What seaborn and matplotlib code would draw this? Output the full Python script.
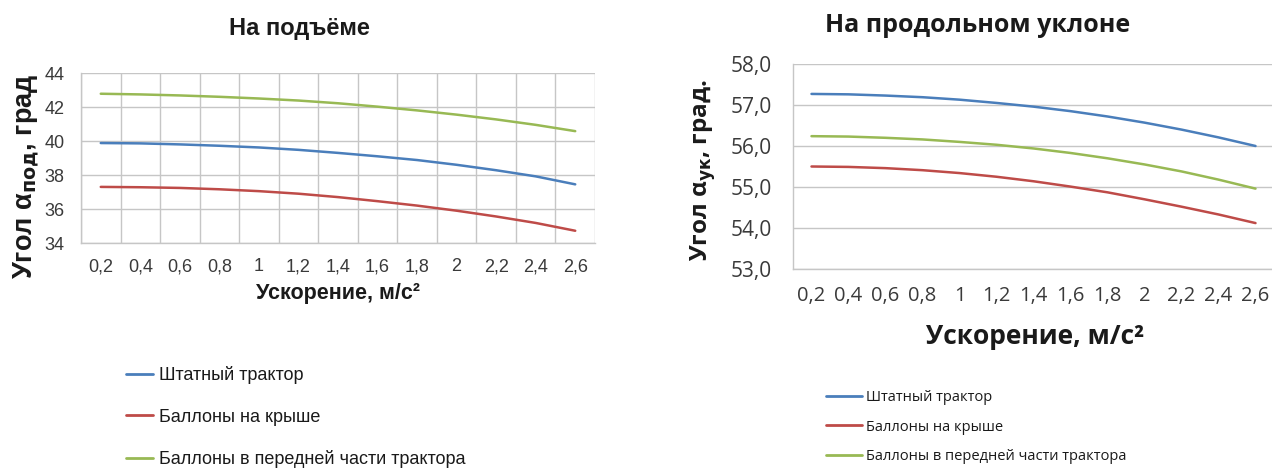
import numpy as np
import pandas as pd
import matplotlib
matplotlib.use("Agg")
import matplotlib.pyplot as plt
from matplotlib.lines import Line2D
from matplotlib.ticker import FixedLocator
import seaborn as sns

# ---------------- data ----------------
accel_labels = ["0,2", "0,4", "0,6", "0,8", "1", "1,2", "1,4", "1,6", "1,8", "2", "2,2", "2,4", "2,6"]
series_names = ["Штатный трактор", "Баллоны на крыше", "Баллоны в передней части трактора"]

climb_standard = [39.88, 39.86, 39.80, 39.72, 39.62, 39.48, 39.30, 39.10, 38.88, 38.60, 38.28, 37.92, 37.45]
climb_roof     = [37.30, 37.28, 37.24, 37.16, 37.05, 36.90, 36.70, 36.46, 36.20, 35.90, 35.56, 35.18, 34.72]
climb_front    = [42.78, 42.74, 42.68, 42.60, 42.50, 42.38, 42.22, 42.02, 41.80, 41.55, 41.27, 40.95, 40.58]

slope_standard = [57.27, 57.26, 57.23, 57.19, 57.13, 57.05, 56.96, 56.85, 56.72, 56.57, 56.40, 56.21, 56.00]
slope_roof     = [55.50, 55.49, 55.46, 55.41, 55.34, 55.25, 55.14, 55.01, 54.87, 54.70, 54.52, 54.33, 54.12]
slope_front    = [56.24, 56.23, 56.20, 56.16, 56.10, 56.03, 55.94, 55.83, 55.70, 55.55, 55.38, 55.18, 54.96]

left_yticks = [34, 36, 38, 40, 42, 44]
right_yticks = [53, 54, 55, 56, 57, 58]

colors = ["#4a7ebb", "#be4b48", "#98b954"]

# ---------------- style ----------------
sns.set_theme(style="white")
LEFTF = ["Liberation Sans", "DejaVu Sans"]
RIGHTF = ["Open Sans", "DejaVu Sans"]
plt.rcParams["font.family"] = LEFTF
plt.rcParams["mathtext.fontset"] = "dejavusans"


def long_frame(values_by_series):
    rows = []
    for name, vals in zip(series_names, values_by_series):
        for i, (lab, v) in enumerate(zip(accel_labels, vals)):
            rows.append({"pos": i, "label": lab, "series": name, "value": v})
    return pd.DataFrame(rows)


df_climb = long_frame([climb_standard, climb_roof, climb_front])
df_slope = long_frame([slope_standard, slope_roof, slope_front])

W, H = 1272, 468
fig = plt.figure(figsize=(W / 100, H / 100), dpi=100)


def fx(px):
    return px / W


def fy(py):
    return 1 - py / H


grid_c = "#c6c6c6"
txt_c = "#1a1a1a"
tick_c = "#3a3a3a"
n = len(accel_labels)

# ---------------- left panel ----------------
ax1 = fig.add_axes([fx(81), fy(243), fx(595 - 81), (243 - 73) / H])
sns.lineplot(data=df_climb, x="pos", y="value", hue="series", hue_order=series_names,
             palette=colors, linewidth=1.8, legend=False, ax=ax1)
ax1.set_xlim(-0.5, n - 0.5)
ax1.set_ylim(left_yticks[0], left_yticks[-1])
ax1.set_yticks(left_yticks)
ax1.set_yticklabels([str(t) for t in left_yticks], fontsize=13, color=tick_c, family=LEFTF)
ax1.xaxis.set_major_locator(FixedLocator(list(range(n))))
ax1.set_xticklabels(accel_labels, fontsize=13, color=tick_c, family=LEFTF)
ax1.xaxis.set_minor_locator(FixedLocator([i - 0.5 for i in range(n + 1)]))
ax1.tick_params(axis="x", which="major", length=0, pad=11)
ax1.tick_params(axis="x", which="minor", length=7, direction="inout", color=grid_c, width=1)
ax1.tick_params(axis="y", which="major", length=6, direction="out", color=grid_c, pad=6)
ax1.grid(False)
ax1.grid(True, which="minor", axis="x", color=grid_c, linewidth=1)
ax1.grid(True, which="major", axis="y", color=grid_c, linewidth=1)
for s in ["top", "right"]:
    ax1.spines[s].set_visible(False)
for s in ["left", "bottom"]:
    ax1.spines[s].set_color(grid_c)
    ax1.spines[s].set_linewidth(1)
ax1.set_xlabel("")
ax1.set_ylabel("")

fig.text(fx(299), fy(29), "На подъёме", ha="center", va="center",
         fontsize=17, fontweight="bold", family=LEFTF, color=txt_c)
fig.text(fx(338), fy(294), "Ускорение, м/с²", ha="center", va="center",
         fontsize=15.5, fontweight="bold", family=LEFTF, color=txt_c)
fig.text(fx(26), fy(176), r"Угол α$_{\mathbf{под}}$, град", ha="center", va="center",
         rotation=90, fontsize=19.5, fontweight="bold", family=LEFTF, color=txt_c)

handles = [Line2D([], [], color=c, linewidth=2) for c in colors]
fig.legend(handles, series_names, loc="upper left", bbox_to_anchor=(fx(126), fy(366)),
           frameon=False, handlelength=1.5, handletextpad=0.33,
           labelspacing=1.37, borderpad=0, borderaxespad=0,
           prop={"family": LEFTF, "size": 13}, labelcolor=txt_c)

# ---------------- right panel ----------------
ax2 = fig.add_axes([fx(793), fy(269), fx(1274 - 793), (269 - 64) / H])
sns.lineplot(data=df_slope, x="pos", y="value", hue="series", hue_order=series_names,
             palette=colors, linewidth=1.8, legend=False, ax=ax2)
ax2.set_xlim(-0.5, n - 0.5)
ax2.set_ylim(right_yticks[0], right_yticks[-1])
ax2.set_yticks(right_yticks)
ax2.set_yticklabels([f"{t:.1f}".replace(".", ",") for t in right_yticks],
                    fontsize=15, color=tick_c, family=RIGHTF)
ax2.xaxis.set_major_locator(FixedLocator(list(range(n))))
ax2.set_xticklabels(accel_labels, fontsize=14.5, color=tick_c, family=RIGHTF)
ax2.xaxis.set_minor_locator(FixedLocator([i - 0.5 for i in range(n + 1)]))
ax2.tick_params(axis="x", which="major", length=0, pad=12)
ax2.tick_params(axis="x", which="minor", length=7, direction="inout", color=grid_c, width=1)
ax2.tick_params(axis="y", which="major", length=4.5, direction="out", color=grid_c, pad=11)
ax2.grid(False)
ax2.grid(True, which="major", axis="y", color=grid_c, linewidth=1)
for s in ["top", "right"]:
    ax2.spines[s].set_visible(False)
for s in ["left", "bottom"]:
    ax2.spines[s].set_color(grid_c)
    ax2.spines[s].set_linewidth(1)
ax2.set_xlabel("")
ax2.set_ylabel("")

fig.text(fx(978), fy(26), "На продольном уклоне", ha="center", va="center",
         fontsize=18, fontweight="bold", family=RIGHTF, color=txt_c)
fig.text(fx(1035), fy(337), "Ускорение, м/с²", ha="center", va="center",
         fontsize=19, fontweight="bold", family=RIGHTF, color=txt_c)
fig.text(fx(703), fy(170), r"Угол α$_{\mathbf{ук}}$, град.", ha="center", va="center",
         rotation=90, fontsize=17.5, fontweight="bold", family=RIGHTF, color=txt_c)

fig.legend(handles, series_names, loc="upper left", bbox_to_anchor=(fx(826), fy(390)),
           frameon=False, handlelength=2.47, handletextpad=0.27,
           labelspacing=1.0, borderpad=0, borderaxespad=0,
           prop={"family": RIGHTF, "size": 10.5}, labelcolor=txt_c)

fig.savefig("out.png", dpi=100, facecolor="white")
